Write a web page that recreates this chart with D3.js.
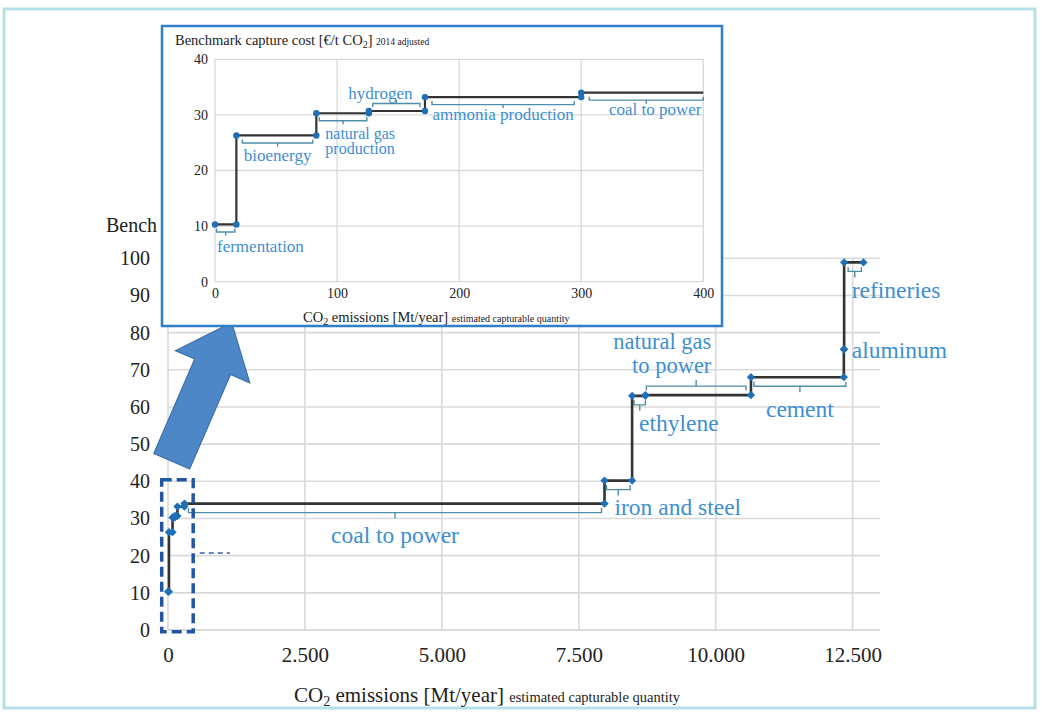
<!DOCTYPE html>
<html>
<head>
<meta charset="utf-8">
<script src="https://cdn.jsdelivr.net/npm/d3@7"></script>
<style>
  html, body { margin: 0; padding: 0; background: #fff; }
  svg { display: block; font-family: "Liberation Serif", "DejaVu Serif", serif; }
  svg text { font-family: "Liberation Serif", "DejaVu Serif", serif; }
</style>
</head>
<body>
<svg id="chart" width="1042" height="718"></svg>
<script>
// cost curve, one step per sector
const sectors = ["fermentation", "bioenergy", "natural gas production", "hydrogen", "ammonia production",
    "coal to power", "iron and steel", "ethylene", "natural gas to power", "cement", "aluminum", "refineries"];
const startMt = [0, 17.5, 83, 126, 172, 300, 7970, 8474, 8716, 10644, 12340, 12345];
const endMt = [17.5, 83, 126, 172, 300, 7970, 8474, 8716, 10644, 12340, 12345, 12697];
const costEur = [10.3, 26.3, 30.3, 30.7, 33.2, 34.0, 40.2, 63.0, 63.2, 68.0, 75.5, 98.9];

const mainTicksX = [0, 2500, 5000, 7500, 10000, 12500];
const mainTickLabelsX = ["0", "2.500", "5.000", "7.500", "10.000", "12.500"];
const mainTicksY = [0, 10, 20, 30, 40, 50, 60, 70, 80, 90, 100];
const insetTicksX = [0, 100, 200, 300, 400];
const insetTicksY = [0, 10, 20, 30, 40];
const insetSectors = 6;

const SERIF = "Liberation Serif";
const BLUE_DOT = "#1f6fb8";
const BLUE_TEXT = "#3d8fd4";
const BRACKET = "#4f8ea8";
const GRID = "#d9d9d9";
const LINE = "#333";

const steps = sectors.map((s, i) => ({ sector: s, x0: startMt[i], x1: endMt[i], cost: costEur[i] }));

const svg = d3.select("#chart");

// outer frame
svg.append("rect")
    .attr("x", 4).attr("y", 9).attr("width", 1031).attr("height", 699)
    .attr("fill", "none").attr("stroke", "#b3e0e9").attr("stroke-width", 3);

const bracket = (g, x0, x1, y, dir, hook, tick) => {
    const c = (x0 + x1) / 2;
    g.append("path")
        .attr("d", `M${x0},${y - dir * hook}L${x0},${y}L${x1},${y}L${x1},${y - dir * hook}M${c},${y}L${c},${y + dir * tick}`)
        .attr("fill", "none").attr("stroke", BRACKET).attr("stroke-width", 1.4);
};

// one text element, one tspan per line
const label = (g, cx, ys, n, size) => {
    const texts = n.text || [n.sector];
    const t = g.append("text")
        .attr("text-anchor", n.anchor)
        .attr("font-family", SERIF)
        .attr("font-size", size).attr("fill", BLUE_TEXT);
    texts.forEach((s, i) => {
        t.append("tspan")
            .attr("x", cx).attr("y", ys + n.lines[i])
            .attr("dy", "0.35em")
            .text(s);
    });
};

const stepPoints = (data) => data.flatMap(d => [[d.x0, d.cost], [d.x1, d.cost]]);

// ---------- main chart ----------
const main = { left: 168, right: 880, top: 258.3, bottom: 630 };
const x = d3.scaleLinear().domain([0, 13000]).range([main.left, main.right]);
const y = d3.scaleLinear().domain([0, 100]).range([main.bottom, main.top]);

const gMain = svg.append("g");

gMain.append("g")
    .selectAll("line")
    .data(mainTicksY)
    .enter()
    .append("line")
    .attr("x1", main.left).attr("x2", main.right)
    .attr("y1", d => y(d)).attr("y2", d => y(d))
    .attr("stroke", d => d === 0 ? "#cfcfcf" : GRID).attr("stroke-width", 1.6);

gMain.append("g")
    .selectAll("line")
    .data(mainTicksX)
    .enter()
    .append("line")
    .attr("x1", d => x(d)).attr("x2", d => x(d))
    .attr("y1", main.top).attr("y2", main.bottom)
    .attr("stroke", GRID).attr("stroke-width", 1.6);

const axisX = d3.axisBottom(x).tickValues(mainTicksX)
    .tickFormat((d, i) => mainTickLabelsX[i]).tickSize(0).tickPadding(17);
gMain.append("g")
    .attr("transform", `translate(0,${main.bottom})`)
    .call(axisX)
    .call(g => g.select(".domain").remove())
    .selectAll("text")
    .attr("font-family", SERIF).attr("font-size", 21).attr("fill", "#222");

const axisY = d3.axisLeft(y).tickValues(mainTicksY).tickSize(0).tickPadding(18);
gMain.append("g")
    .attr("transform", `translate(${main.left},0)`)
    .call(axisY)
    .call(g => g.select(".domain").remove())
    .selectAll("text")
    .attr("font-family", SERIF).attr("font-size", 20).attr("fill", "#222");

const mainXTitle = gMain.append("text")
    .attr("x", 294).attr("y", 702)
    .attr("font-family", SERIF).attr("font-size", 21).attr("fill", "#222");
mainXTitle.append("tspan").text("CO");
mainXTitle.append("tspan").attr("font-size", 14).attr("dy", 4).text("2");
mainXTitle.append("tspan").attr("dy", -4).text(" emissions  [Mt/year] ");
mainXTitle.append("tspan").attr("font-size", 14.5).text("estimated capturable quantity");

// y title: only its start shows, the inset covers the rest
gMain.append("text")
    .attr("x", 106).attr("y", 232)
    .attr("font-family", SERIF).attr("font-size", 20).attr("fill", "#222")
    .text("Bench");

// annotation layout for the main chart (pixel offsets from each step)
const mainNotes = [
    { sector: "coal to power", dir: 1, padL: 4, padR: 3, anchor: "middle", dx: 0, lines: [31] },
    { sector: "iron and steel", dir: 1, padL: 2, padR: 2, anchor: "start", dx: 10, lines: [26] },
    { sector: "ethylene", dir: 1, padL: 2, padR: 0, anchor: "start", dx: 7, lines: [27] },
    { sector: "natural gas to power", dir: -1, padL: 1, padR: 5, anchor: "end", dx: 66, lines: [-54, -30], text: ["natural gas", "to power"] },
    { sector: "cement", dir: 1, padL: 3, padR: -2, anchor: "middle", dx: 0, lines: [32] },
    { sector: "aluminum", anchor: "start", dx: 8, lines: [0] },
    { sector: "refineries", dir: 1, padL: 4, padR: 2, anchor: "start", dx: 7.5, lines: [27] }
];

const gBr = gMain.append("g");
mainNotes.forEach(n => {
    const s = steps.find(d => d.sector === n.sector);
    if (n.dir) bracket(gBr, x(s.x0) + n.padL, x(s.x1) - n.padR, y(s.cost) + n.dir * 9, n.dir, 4.5, 6);
});

gMain.append("path")
    .datum(stepPoints(steps))
    .attr("d", d3.line().x(d => x(d[0])).y(d => y(d[1])))
    .attr("fill", "none").attr("stroke", LINE).attr("stroke-width", 2.6);

gMain.append("g")
    .selectAll("path")
    .data(stepPoints(steps))
    .enter()
    .append("path")
    .attr("d", d3.symbol(d3.symbolSquare, 34))
    .attr("transform", d => `translate(${x(d[0])},${y(d[1])}) rotate(45)`)
    .attr("fill", BLUE_DOT);

mainNotes.forEach(n => {
    const s = steps.find(d => d.sector === n.sector);
    const xa = x(s.x0), xb = x(s.x1);
    const cx = n.anchor === "middle" ? (xa + n.padL + xb - n.padR) / 2 : xa + n.dx;
    label(gMain, cx, y(s.cost), n, n.text ? 22.5 : 23.5);
});

// zoom marker round the first steps
gMain.append("rect")
    .attr("x", x(-115)).attr("y", y(40.4))
    .attr("width", x(460) - x(-115)).attr("height", y(-0.5) - y(40.4))
    .attr("fill", "none").attr("stroke", "#2356a2").attr("stroke-width", 3.5)
    .attr("stroke-dasharray", "10,5");

gMain.append("line")
    .attr("x1", x(580)).attr("x2", x(1130)).attr("y1", y(20.7)).attr("y2", y(20.7))
    .attr("stroke", "#3a62a8").attr("stroke-width", 1.6).attr("stroke-dasharray", "5,4");

// block arrow
const arrow = (tail, tip, shaftW, headW, headL) => {
    const dx = tip[0] - tail[0], dy = tip[1] - tail[1];
    const len = Math.hypot(dx, dy);
    const ux = dx / len, uy = dy / len, nx = -uy, ny = ux;
    const base = [tip[0] - ux * headL, tip[1] - uy * headL];
    const p = (pt, w) => [pt[0] + nx * w, pt[1] + ny * w];
    return [p(tail, shaftW / 2), p(base, shaftW / 2), p(base, headW / 2), tip,
        p(base, -headW / 2), p(base, -shaftW / 2), p(tail, -shaftW / 2)];
};
svg.append("polygon")
    .attr("points", arrow([171.7, 461.3], [231.7, 322.7], 39, 81, 48).map(d => d.join(",")).join(" "))
    .attr("fill", "#4d87c7").attr("stroke", "#3f70a8").attr("stroke-width", 1.2);

// ---------- inset ----------
const box = { x: 162, y: 26, w: 560, h: 300 };
const inset = { left: 215, right: 703.3, top: 59.3, bottom: 281.7 };
const xi = d3.scaleLinear().domain([0, 400]).range([inset.left, inset.right]);
const yi = d3.scaleLinear().domain([0, 40]).range([inset.bottom, inset.top]);

const gIn = svg.append("g");
gIn.append("rect")
    .attr("x", box.x).attr("y", box.y).attr("width", box.w).attr("height", box.h)
    .attr("fill", "#fff").attr("stroke", "#2f7ec6").attr("stroke-width", 2.5);

gIn.append("g")
    .selectAll("line")
    .data(insetTicksY)
    .enter()
    .append("line")
    .attr("x1", inset.left).attr("x2", inset.right)
    .attr("y1", d => yi(d)).attr("y2", d => yi(d))
    .attr("stroke", GRID).attr("stroke-width", 1.3);

gIn.append("g")
    .selectAll("line")
    .data(insetTicksX)
    .enter()
    .append("line")
    .attr("x1", d => xi(d)).attr("x2", d => xi(d))
    .attr("y1", inset.top).attr("y2", inset.bottom)
    .attr("stroke", GRID).attr("stroke-width", 1.3);

gIn.append("g")
    .attr("transform", `translate(0,${inset.bottom})`)
    .call(d3.axisBottom(xi).tickValues(insetTicksX).tickSize(0).tickPadding(6))
    .call(g => g.select(".domain").remove())
    .selectAll("text")
    .attr("font-family", SERIF).attr("font-size", 14).attr("fill", "#222");

gIn.append("g")
    .attr("transform", `translate(${inset.left},0)`)
    .call(d3.axisLeft(yi).tickValues(insetTicksY).tickSize(0).tickPadding(7))
    .call(g => g.select(".domain").remove())
    .selectAll("text")
    .attr("font-family", SERIF).attr("font-size", 14).attr("fill", "#222");

const inTitle = gIn.append("text")
    .attr("x", 175).attr("y", 45).attr("font-family", SERIF).attr("font-size", 14.5).attr("fill", "#222");
inTitle.append("tspan").text("Benchmark  capture cost  [€/t CO");
inTitle.append("tspan").attr("font-size", 10).attr("dy", 3).text("2");
inTitle.append("tspan").attr("dy", -3).text("] ");
inTitle.append("tspan").attr("font-size", 9.5).text("2014 adjusted");

const inXTitle = gIn.append("text")
    .attr("x", 303).attr("y", 321.5).attr("font-family", SERIF).attr("font-size", 14.5).attr("fill", "#222");
inXTitle.append("tspan").text("CO");
inXTitle.append("tspan").attr("font-size", 10).attr("dy", 3).text("2");
inXTitle.append("tspan").attr("dy", -3).text(" emissions  [Mt/year] ");
inXTitle.append("tspan").attr("font-size", 10).text("estimated capturable quantity");

const insetSteps = steps.slice(0, insetSectors);

const insetNotes = [
    { sector: "fermentation", dir: 1, padL: 1.5, padR: 1.5, anchor: "start", dx: 2, lines: [22] },
    { sector: "bioenergy", dir: 1, padL: 6, padR: 3.5, anchor: "middle", lines: [19.5] },
    { sector: "natural gas production", dir: 1, padL: 3, padR: 2, anchor: "start", dx: 9, lines: [20, 35], text: ["natural gas", "production"] },
    { sector: "hydrogen", dir: -1, padL: 4, padR: 5, anchor: "middle", shift: -16, lines: [-17.5] },
    { sector: "ammonia production", dir: 1, padL: 7, padR: 7, anchor: "middle", lines: [17] },
    { sector: "coal to power", dir: 1, padL: 8, padR: 0, anchor: "middle", shift: 9, lines: [16.5] }
];

insetNotes.forEach(n => {
    const s = insetSteps.find(d => d.sector === n.sector);
    bracket(gIn, xi(s.x0) + n.padL, Math.min(xi(s.x1), inset.right) - n.padR, yi(s.cost) + n.dir * 7.5, n.dir, 3.5, 3.5);
});

svg.append("clipPath").attr("id", "inset-clip")
    .append("rect")
    .attr("x", inset.left - 5).attr("y", inset.top - 5)
    .attr("width", inset.right - inset.left + 5).attr("height", inset.bottom - inset.top + 10);

gIn.append("path")
    .datum(stepPoints(insetSteps))
    .attr("clip-path", "url(#inset-clip)")
    .attr("d", d3.line().x(d => xi(d[0])).y(d => yi(d[1])))
    .attr("fill", "none").attr("stroke", LINE).attr("stroke-width", 2.2);

gIn.append("g")
    .selectAll("circle")
    .data(stepPoints(insetSteps).filter(d => d[0] <= 400))
    .enter()
    .append("circle")
    .attr("cx", d => xi(d[0])).attr("cy", d => yi(d[1]))
    .attr("r", 3.2)
    .attr("fill", BLUE_DOT);

insetNotes.forEach(n => {
    const s = insetSteps.find(d => d.sector === n.sector);
    const xa = xi(s.x0), xb = Math.min(xi(s.x1), inset.right);
    const cx = n.anchor === "middle" ? (xa + n.padL + xb - n.padR) / 2 + (n.shift || 0) : xa + n.dx;
    label(gIn, cx, yi(s.cost), n, n.text ? 16 : 17);
});
</script>
</body>
</html>
